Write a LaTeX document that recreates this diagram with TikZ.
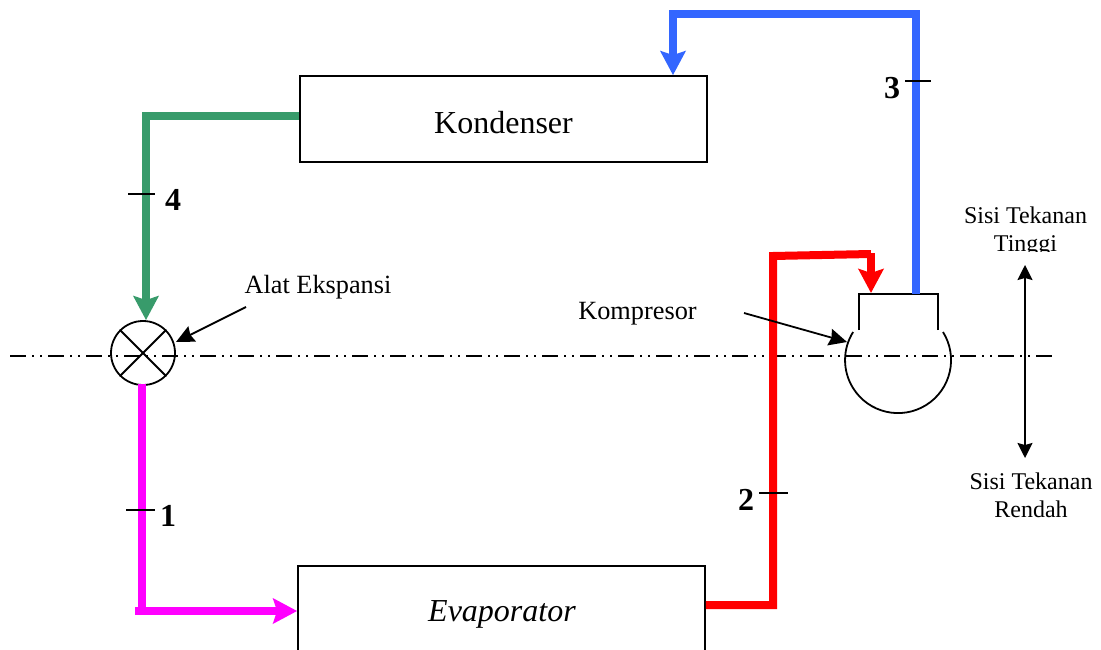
\documentclass[tikz,border=0pt]{standalone}
\usepackage{fontspec}
\setmainfont{Liberation Serif}
\usetikzlibrary{arrows.meta}
\tikzset{
  unitbox/.style={draw, line width=1.7pt, minimum width=407pt, inner sep=0pt},
  pipe/.style={line width=8pt, miter limit=10},
  pipehead/.style={-{Stealth[length=24pt,width=25pt,inset=4pt]}},
  thin line/.style={line width=1.8pt},
  pointer/.style={line width=1.8pt, -{Stealth[length=18pt,width=17pt,inset=2pt]}},
  caption/.style={font=\fontsize{26.3}{30}\selectfont, inner sep=0pt},
  side/.style={font=\fontsize{24}{28}\selectfont, align=center, inner sep=0pt},
  number/.style={font=\fontsize{32}{36}\selectfont\bfseries, inner sep=0pt},
}
\definecolor{pipegreen}{RGB}{56,155,107}
\definecolor{pipeblue}{RGB}{51,102,255}
\definecolor{pipepink}{RGB}{255,0,255}
\definecolor{pipered}{RGB}{255,0,0}
\begin{document}
\begin{tikzpicture}[x=1pt,y=-1pt]
  \useasboundingbox (0,0) rectangle (1101,650);
  \clip (0,0) rectangle (1101,650);
  \footnotesize
  % pressure line
  \draw[line width=2pt, dash pattern=on 16pt off 6pt on 2pt off 6pt on 2pt off 6pt] (10,355.5) -- (1053,355.5);
  % units
  \node[unitbox, minimum height=86pt] (kondenser) at (503.5,119) {};
  \node[font=\fontsize{32}{36}\selectfont] (kondtext) at (503.5,122.5) {Kondenser};
  \node[unitbox, minimum height=100pt, anchor=north] (evaporator) at (501.5,565) {};
  \node[font=\fontsize{32}{36}\selectfont\itshape] (evaptext) at (502,614) {Evaporator};
  \node[draw, circle, line width=1.8pt, minimum size=64pt, inner sep=0pt] (valve) at (143,353) {};
  \draw[line width=1.8pt] (valve.45) -- (valve.225);
  \draw[line width=1.8pt] (valve.135) -- (valve.315);
  % compressor
  \coordinate (kompL) at (859,330);
  \coordinate (kompR) at (938,330);
  \coordinate (kompIn) at (871,293);
  \coordinate (kompOut) at (916,294);
  \coordinate (kompArc) at (943,332);
  \draw[thin line] (kompL) -- (859,294) -- (939,294);
  \draw[thin line] (kompR) -- (938,294);
  \draw[line width=1.8pt] (kompArc) arc[start angle=-32, end angle=212, x radius=53pt, y radius=-53pt];
  % pipes
  \coordinate (greenTop) at (146,116);
  \coordinate (redIn) at (773,605);
  \draw[pipe, pipegreen, pipehead] (kondenser.west |- greenTop) -- (greenTop) -- (valve.north -| greenTop);
  \draw[pipe, pipepink, pipehead] (142,384) -- (142,611) -- (evaporator.west |- 0,611);
  \draw[pipe, pipepink] (135,611) -- (145,611);
  \draw[pipe, pipered] (evaporator.east |- redIn) -- (redIn) -- (773,256) -- (871,254);
  \draw[pipe, pipered, pipehead] (871,253) -- (kompIn);
  \draw[pipe, pipeblue, pipehead] (kompOut) -- (916,14) -- (673,14) -- (kondenser.north -| 673,0);
  % ticks and numbers
  \draw[thin line] (905,81) -- ++(26,0);
  \node[number] (n3) at (892,88) {3};
  \draw[thin line] (128,194) -- ++(27,0);
  \node[number] (n4) at (173,200) {4};
  \draw[thin line] (126,510) -- ++(29,0);
  \node[number] (n1) at (168,516) {1};
  \draw[thin line] (759,493) -- ++(29,0);
  \node[number] (n2) at (746,500) {2};
  % labels
  \node[caption] (alat) at (318,287) {Alat Ekspansi};
  \node[caption] (kompresor) at (637.5,314) {Kompresor};
  \coordinate (alatFrom) at (246,307);
  \coordinate (alatTo) at (176,342);
  \coordinate (kompFrom) at (744,313);
  \coordinate (kompTo) at (847,342);
  \draw[pointer] (alatFrom) -- (alatTo);
  \draw[pointer] (kompFrom) -- (kompTo);
  \node[side] (high) at (1025.5,231.5) {Sisi Tekanan\\Tinggi};
  \fill[white] (990,251.5) rectangle (1060,260);
  \node[side] (low) at (1031,495.5) {Sisi Tekanan\\Rendah};
  \coordinate (pressTop) at (1025,265);
  \coordinate (pressBot) at (1025,458);
  \draw[line width=1.8pt, {Stealth[length=15pt,width=15pt,inset=2pt]}-{Stealth[length=15pt,width=15pt,inset=2pt]}] (pressTop) -- (pressBot);
\end{tikzpicture}
\end{document}
